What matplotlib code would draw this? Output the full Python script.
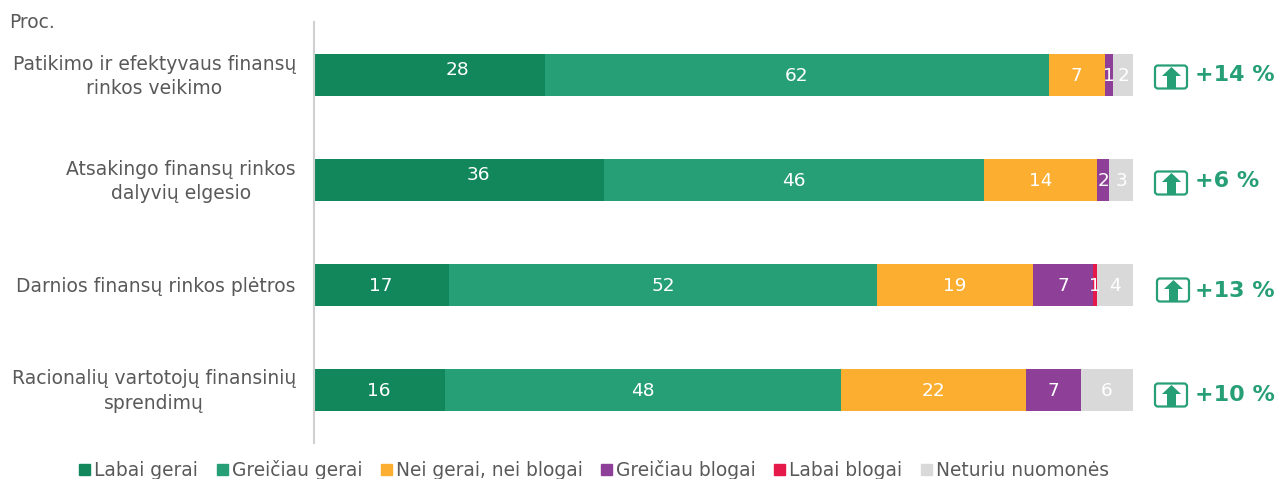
import matplotlib
matplotlib.use("Agg")
import matplotlib.pyplot as plt
from matplotlib.patches import FancyBboxPatch, Polygon, Patch
from matplotlib.transforms import ScaledTranslation

plt.rcParams['font.family'] = ['DejaVu Sans']

categories = ["Patikimo ir efektyvaus finansų\nrinkos veikimo",
              "Atsakingo finansų rinkos\ndalyvių elgesio",
              "Darnios finansų rinkos plėtros",
              "Racionalių vartotojų finansinių\nsprendimų"]
series_names = ["Labai gerai", "Greičiau gerai", "Nei gerai, nei blogai",
                "Greičiau blogai", "Labai blogai", "Neturiu nuomonės"]
# bar lengths as measured, labels as printed
labai_gerai = [28.2, 35.5, 16.5, 16.0]
greiciau_gerai = [61.5, 46.3, 52.3, 48.4]
nei_nei = [6.9, 13.8, 19.0, 22.5]
greiciau_blogai = [1.0, 1.5, 7.3, 6.7]
labai_blogai = [0.0, 0.0, 0.5, 0.0]
neturiu = [2.4, 2.9, 4.4, 6.4]
labels = [[28, 36, 17, 16], [62, 46, 52, 48], [7, 14, 19, 22],
          [1, 2, 7, 7], [None, None, 1, None], [2, 3, 4, 6]]
changes = [14, 6, 13, 10]

colors = ['#12875c', '#279f76', '#fbae30', '#8e4098', '#e6194b', '#d9d9d9']
text_grey = '#595959'
green = '#279f76'

fig = plt.figure(figsize=(12.76, 4.79), dpi=100)
ax = fig.add_axes([313.5 / 1276, 1 - 443 / 479, 819.5 / 1276, 421 / 479])
ax.set_xlim(0, 100)
ax.set_ylim(3.505, -0.505)

data = [labai_gerai, greiciau_gerai, nei_nei, greiciau_blogai, labai_blogai, neturiu]
left = [0, 0, 0, 0]
for s, vals in enumerate(data):
    ax.barh(range(4), vals, left=left, height=0.4, color=colors[s])
    for i, v in enumerate(vals):
        if labels[s][i] is not None:
            # first two dark green labels sit off centre in the original
            dy = -0.05 if s == 0 and i < 2 else 0.008
            dx = {0: 3.5, 1: 2.4}.get(i, 0) if s == 0 else 0
            ax.text(left[i] + v / 2 + dx, i + dy, str(labels[s][i]), color='white',
                    ha='center', va='center', fontsize=13.3)
    left = [a + b for a, b in zip(left, vals)]

ax.set_yticks(range(4))
ax.set_yticklabels(categories, fontsize=13.5, color=text_grey, ma='center', linespacing=1.35)
ax.tick_params(axis='y', length=0, pad=12.6)
# two-line labels sit a little higher than matplotlib centres them
for lab in ax.get_yticklabels():
    if "\n" in lab.get_text():
        lab.set_transform(lab.get_transform() + ScaledTranslation(0, 3.5 / 100, fig.dpi_scale_trans))
ax.xaxis.set_visible(False)
for side in ['top', 'right', 'bottom']:
    ax.spines[side].set_visible(False)
ax.spines['left'].set_color('#d0d0d0')
ax.spines['left'].set_linewidth(1.5)

fig.text(9 / 1276, 1 - 22 / 479, "Proc.", fontsize=13.4, color=text_grey, va='center')

# overlay in pixel coordinates for the arrow icons and change texts
ov = fig.add_axes([0, 0, 1, 1])
ov.set_xlim(0, 1276)
ov.set_ylim(479, 0)
ov.axis('off')
icon_x = [1155, 1155, 1157, 1155]
icon_y = [77, 183, 290, 395]
change_y = [75, 181, 291, 395]
for i, ch in enumerate(changes):
    x0 = icon_x[i]
    yc = icon_y[i]
    ov.add_patch(FancyBboxPatch((x0 + 2, yc - 9.5), 28, 19, boxstyle="round,pad=2,rounding_size=3",
                                fc='white', ec=green, lw=1.6))
    ov.add_patch(Polygon([(x0 + 16.5, yc - 10), (x0 + 26, yc - 1), (x0 + 21, yc - 1), (x0 + 21, yc + 11),
                          (x0 + 12, yc + 11), (x0 + 12, yc - 1), (x0 + 7, yc - 1)],
                         closed=True, fc=green, ec='none'))
    ov.text(1195, change_y[i], "+%d %%" % ch, fontsize=16, fontweight='bold', color=green,
            ha='left', va='center')

handles = [Patch(color=c, label=n) for c, n in zip(colors, series_names)]
leg = fig.legend(handles=handles, ncol=6, loc='center', bbox_to_anchor=(594 / 1276, 1 - 470 / 479),
                 frameon=False, fontsize=13.4, handlelength=0.6, handleheight=0.6,
                 handletextpad=0.2, columnspacing=1.0, labelcolor=text_grey, borderpad=0)

plt.savefig("out.png", dpi=100)
